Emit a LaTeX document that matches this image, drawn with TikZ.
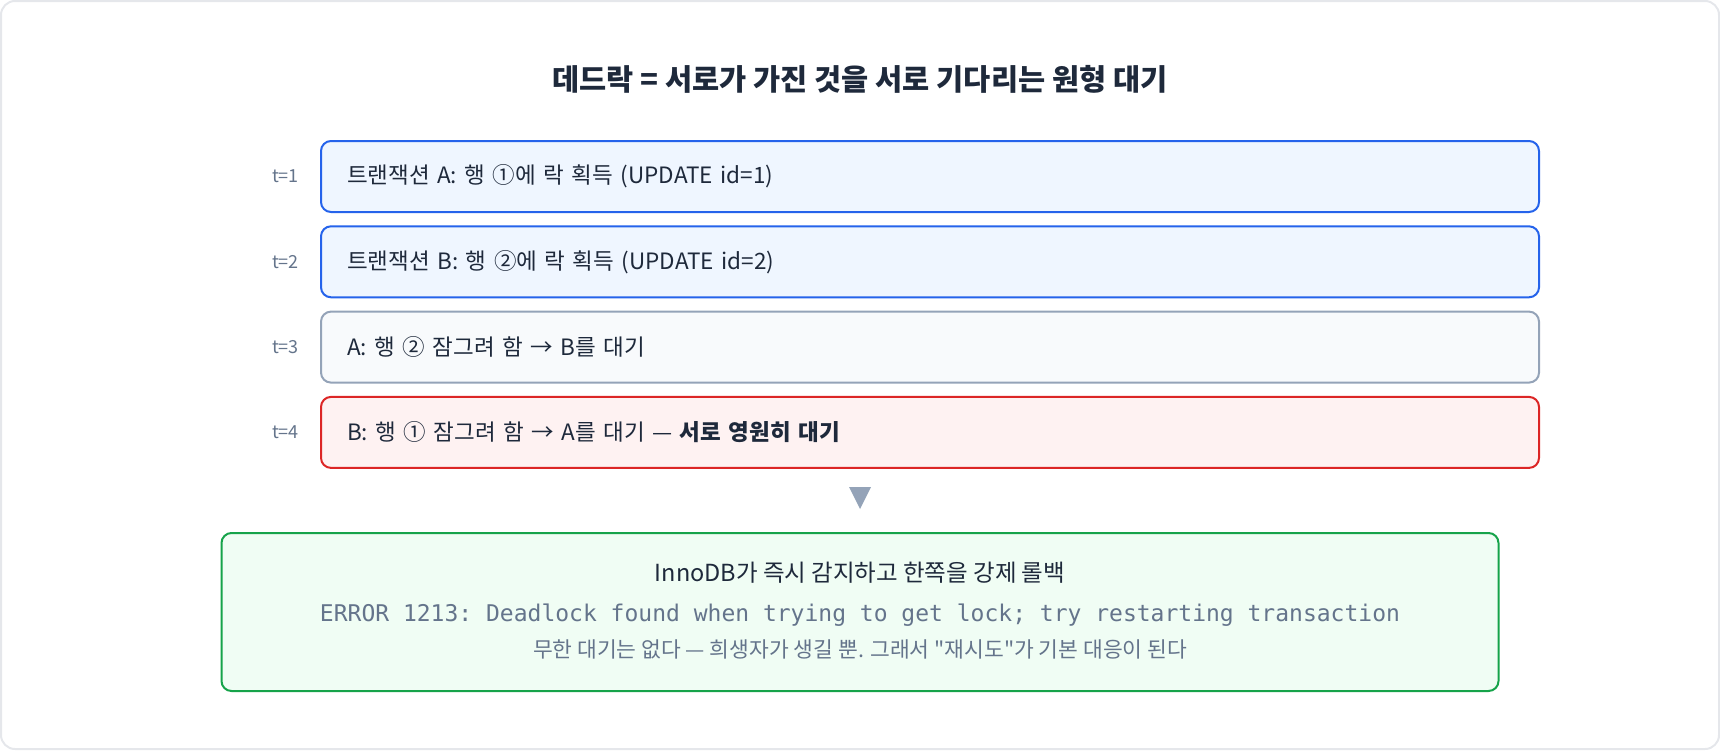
\documentclass[tikz,border=0pt]{standalone}
\usepackage{fontspec}
\setmainfont{Noto Sans CJK KR}[Ligatures=TeXOff]
\setmonofont{DejaVu Sans Mono}
\usetikzlibrary{positioning}

\definecolor{framegray}{HTML}{E5E7EB}
\definecolor{ink}{HTML}{1E293B}
\definecolor{muted}{HTML}{64748B}
\definecolor{lockblue}{HTML}{2563EB}
\definecolor{lockfill}{HTML}{EFF6FF}
\definecolor{waitgray}{HTML}{94A3B8}
\definecolor{waitfill}{HTML}{F8FAFC}
\definecolor{deadred}{HTML}{DC2626}
\definecolor{deadfill}{HTML}{FEF2F2}
\definecolor{okgreen}{HTML}{16A34A}
\definecolor{okfill}{HTML}{F0FDF4}

\tikzset{
  stepbox/.style 2 args={draw=#1, fill=#2, line width=2pt, rounded corners=10pt,
    minimum width=1218pt, minimum height=71pt, text width=1166pt, inner xsep=26pt,
    align=left, text=ink, font=\fontsize{22.5}{27}\selectfont},
  tlabel/.style={inner sep=0pt, text=muted, font=\fontsize{18}{22}\selectfont},
  resultbox/.style={draw=okgreen, fill=okfill, line width=2pt, rounded corners=10pt,
    minimum width=1277pt, minimum height=158pt},
}

\begin{document}
\begin{tikzpicture}[x=1pt, y=-1pt]
  \useasboundingbox (0,0) rectangle (1720,750);
  % frame
  \draw[framegray, line width=2pt, rounded corners=14pt] (1,1) rectangle (1719,749);

  % title
  \node[text=ink, font=\fontsize{29.5}{34}\selectfont\bfseries] (title) at (860,79)
    {데드락 = 서로가 가진 것을 서로 기다리는 원형 대기};

  % time steps
  \foreach \i/\y/\bd/\bg/\txt in {
      1/176.5/lockblue/lockfill/{트랜잭션 A: 행 ①에 락 획득 (UPDATE id=1)},
      2/261.8/lockblue/lockfill/{트랜잭션 B: 행 ②에 락 획득 (UPDATE id=2)},
      3/347.1/waitgray/waitfill/{A: 행 ② 잠그려 함 → B를 대기},
      4/432.4/deadred/deadfill/{B: 행 ① 잠그려 함 → A를 대기 — \textbf{서로 영원히 대기}}} {
    \node[stepbox={\bd}{\bg}] (r\i) at (930,\y) {\raisebox{2pt}{\txt}};
    \node[tlabel, left=21pt of r\i] (t\i) {t=\i};
  }

  % down marker
  \fill[waitgray] (849,487) -- (871,487) -- (860,509) -- cycle;

  % outcome
  \node[resultbox] (result) at (860,612) {};
  \node[text=ink, font=\fontsize{23.5}{28}\selectfont] (verdict) at ([yshift=-41pt]result.north)
    {InnoDB가 즉시 감지하고 한쪽을 강제 롤백};
  \node[text=muted, font=\fontsize{23}{27}\ttfamily] (error) at ([yshift=-83pt]result.north)
    {ERROR 1213: Deadlock found when trying to get lock; try restarting transaction};
  \node[text=muted, font=\fontsize{21.5}{25}\selectfont] (note) at ([yshift=-117pt]result.north)
    {무한 대기는 없다 — 희생자가 생길 뿐. 그래서 "재시도"가 기본 대응이 된다};
\end{tikzpicture}
\end{document}
